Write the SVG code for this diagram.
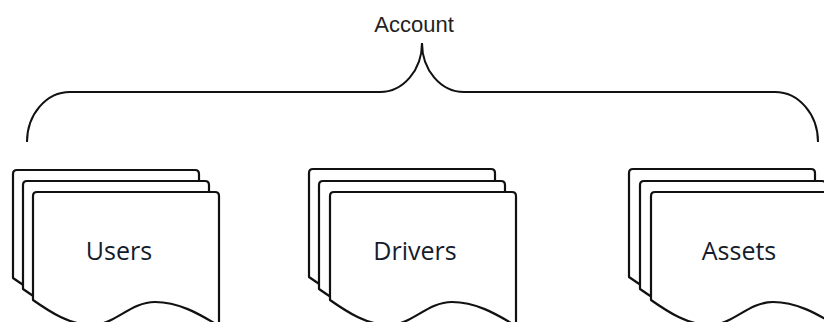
<svg xmlns="http://www.w3.org/2000/svg" xmlns:xlink="http://www.w3.org/1999/xlink" width="824" height="322" viewBox="0 0 824 322">
  <style>
    .sheet { fill: #ffffff; stroke: #111111; stroke-width: 2.2; stroke-linejoin: round; }
    .brace { fill: none; stroke: #111111; stroke-width: 2; }
    .label { font-family: "Open Sans", "Noto Sans", sans-serif; font-size: 25px; fill: #141c2c; text-anchor: middle; }
    .title { font-family: "Liberation Sans", Arial, sans-serif; font-size: 22px; fill: #222222; text-anchor: middle; }
  </style>
  <defs>
    <path id="sheet" d="M0,4 Q0,0 4,0 H182 Q186,0 186,4 V134 C165,121 145,110 122,110 C97,110 82,133 59,133 C37,133 17,120 0,108 Z"/>
  </defs>
  <rect width="824" height="322" fill="#ffffff"/>
  <g id="connectors">
    <path class="brace" d="M27,142 A43,50 0 0 1 70,92 H380 A42,49 0 0 0 422,43 A42,49 0 0 0 464,92 H775 A43,50 0 0 1 818,142"/>
  </g>
  <g id="account">
    <text class="title" x="414" y="32">Account</text>
  </g>
  <g id="users">
    <use href="#sheet" class="sheet" transform="translate(13,170)"/>
    <use href="#sheet" class="sheet" transform="translate(23,181)"/>
    <use href="#sheet" class="sheet" transform="translate(33,192)"/>
    <text class="label" x="119" y="260">Users</text>
  </g>
  <g id="drivers">
    <use href="#sheet" class="sheet" transform="translate(309,169)"/>
    <use href="#sheet" class="sheet" transform="translate(319,181)"/>
    <use href="#sheet" class="sheet" transform="translate(330,192)"/>
    <text class="label" x="415" y="260">Drivers</text>
  </g>
  <g id="assets">
    <use href="#sheet" class="sheet" transform="translate(629,169)"/>
    <use href="#sheet" class="sheet" transform="translate(640,181)"/>
    <use href="#sheet" class="sheet" transform="translate(651,192)"/>
    <text class="label" x="739" y="260">Assets</text>
  </g>
</svg>
